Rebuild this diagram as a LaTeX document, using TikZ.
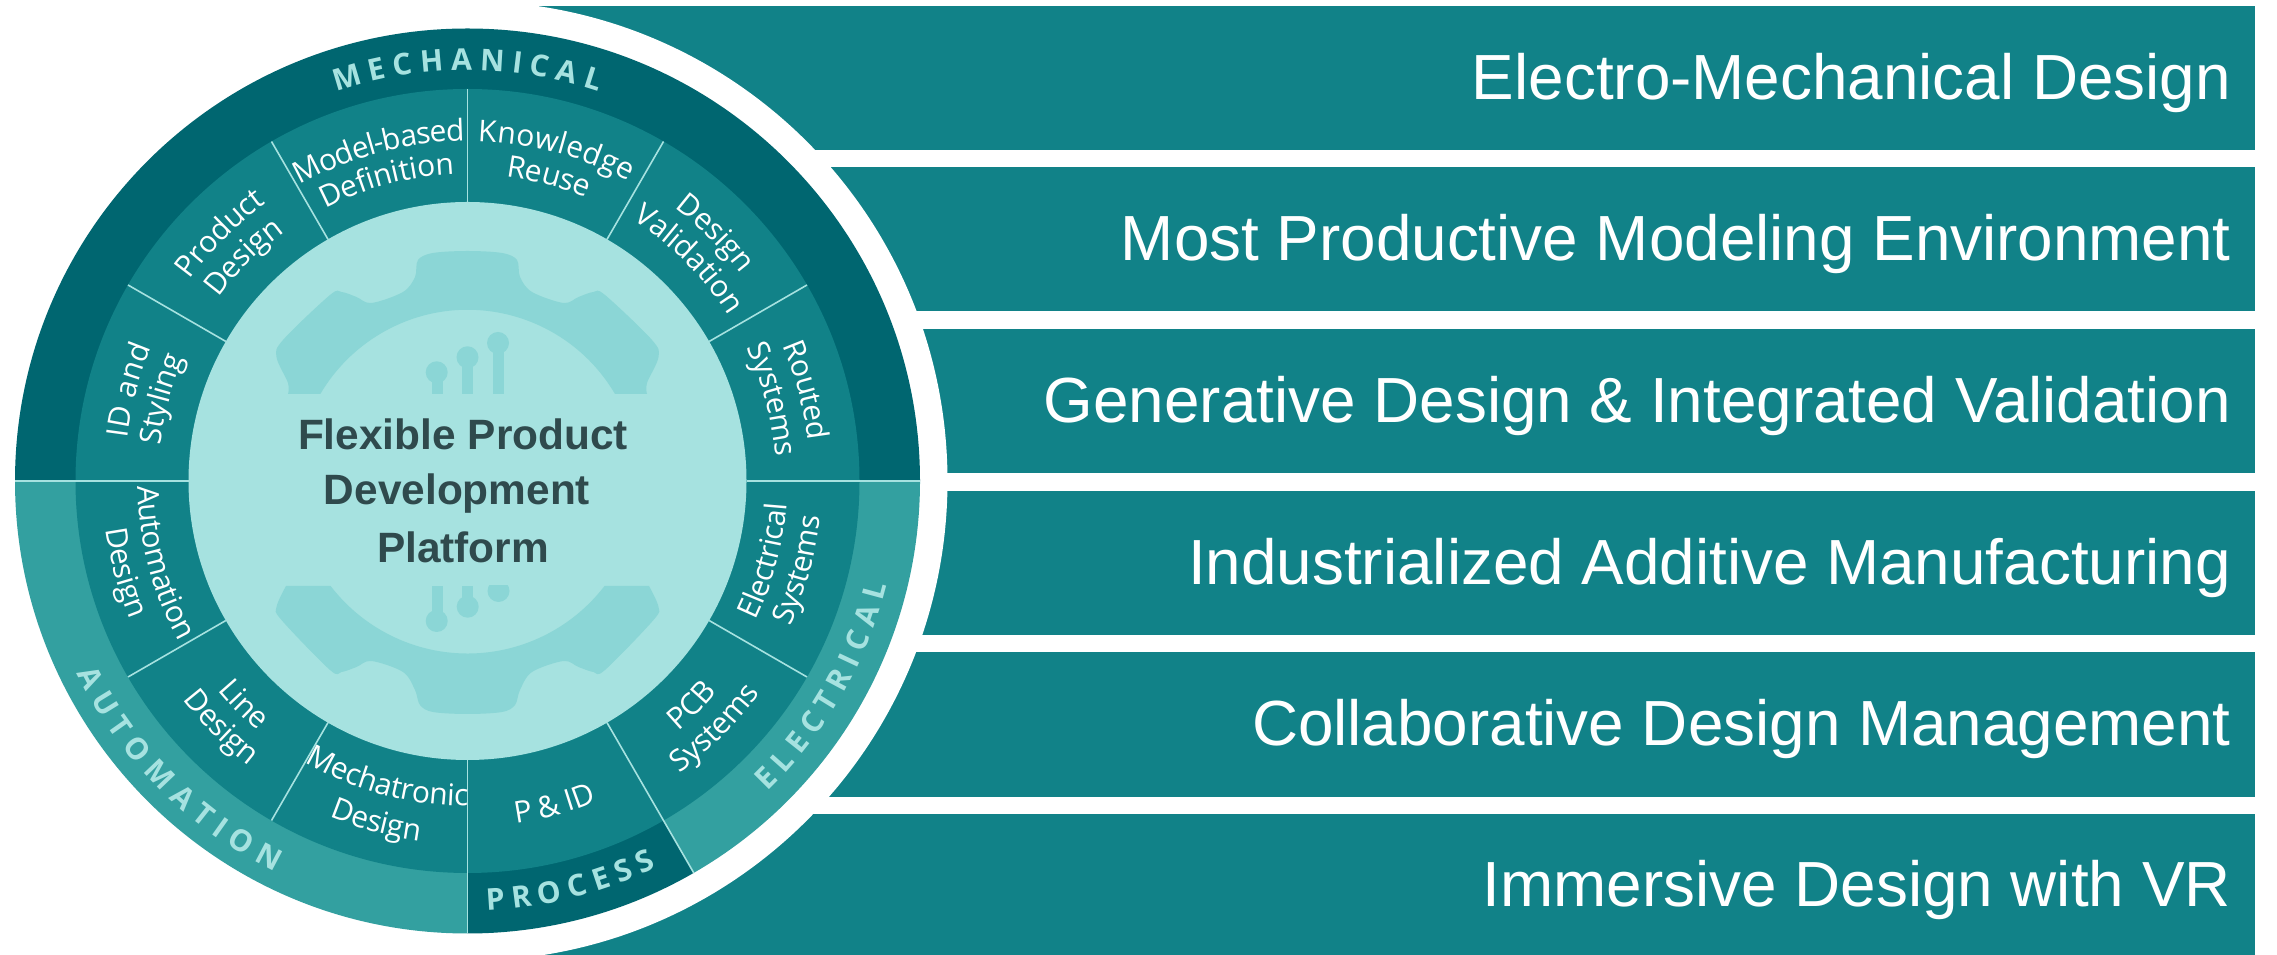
\documentclass[tikz,border=0pt]{standalone}
\usepackage{fontspec}
\setmainfont{Liberation Sans}
\newfontfamily\ringfont{Open Sans}
\definecolor{barteal}{HTML}{118288}
\definecolor{darkring}{HTML}{006670}
\definecolor{lightring}{HTML}{33A0A0}
\definecolor{hubcol}{HTML}{A6E2E0}
\definecolor{gearcol}{HTML}{8BD6D6}
\definecolor{hubtext}{HTML}{2F4A4D}
\definecolor{ringtext}{HTML}{A6E2E0}
\tikzset{x=1pt,y=1pt,
  barbox/.style={fill=barteal,draw=none},
  bartext/.style={anchor=base east,text=white,font=\fontsize{63.8}{64}\selectfont,inner sep=0pt},
  hubline/.style={anchor=base,text=hubtext,font=\fontsize{42.4}{42.4}\selectfont\bfseries,inner sep=0pt},
  divider/.style={draw=ringtext,line width=1.6pt},
  gearfill/.style={fill=gearcol,draw=none},
}
\newcounter{ltr}
\newdimen\ltrtotal
\newdimen\ltrpos
\newsavebox\ltrbox
\makeatletter
% #1 middle angle, #2 baseline radius, #3 -1 clockwise / 1 counter-clockwise,
% #4 extra tracking in pt, #5 font and colour name, #6 text
\newcommand{\arctext}[6]{%
  \ltrtotal=0pt
  \@tfor\ch:=#6\do{\sbox\ltrbox{\pgfinterruptpicture#5\ch\endpgfinterruptpicture}\advance\ltrtotal by\wd\ltrbox\advance\ltrtotal by#4pt\relax}%
  \advance\ltrtotal by-#4pt\relax
  \ltrpos=0pt
  \@tfor\ch:=#6\do{%
    \sbox\ltrbox{\pgfinterruptpicture#5\ch\endpgfinterruptpicture}%
    \pgfmathsetmacro\ltrang{#1+(#3)*(\the\ltrpos+0.5*\the\wd\ltrbox-0.5*\the\ltrtotal)/#2*57.29578}%
    \stepcounter{ltr}%
    \node[anchor=base,inner sep=0pt,outer sep=0pt,rotate=\ltrang+(#3)*90] (ltr\theltr) at (\ltrang:#2) {#5\ch};%
    \advance\ltrpos by\wd\ltrbox\advance\ltrpos by#4pt\relax
  }%
}
\makeatother
\newcommand{\sectfont}{\ringfont\fontsize{30}{30}\selectfont\color{white}}
\newcommand{\bandfont}{\ringfont\bfseries\fontsize{30}{30}\selectfont\color{ringtext}}
\begin{document}
\begin{tikzpicture}
\useasboundingbox (0,0) rectangle (2277,955);
\fill[white] (0,0) rectangle (2277,955);
% bars
\fill[barbox] (467.5,805) rectangle (2255,949);
\fill[barbox] (467.5,644) rectangle (2255,788);
\fill[barbox] (467.5,482) rectangle (2255,626);
\fill[barbox] (467.5,320) rectangle (2255,464);
\fill[barbox] (467.5,158) rectangle (2255,303);
\fill[barbox] (467.5,0) rectangle (2255,141);
\node[bartext] (b1) at (2231,855) {Electro-Mechanical Design};
\node[bartext] (b2) at (2231,694) {Most Productive Modeling Environment};
\node[bartext] (b3) at (2231,532) {Generative Design \& Integrated Validation};
\node[bartext] (b4) at (2231,370) {Industrialized Additive Manufacturing};
\node[bartext] (b5) at (2231,209) {Collaborative Design Management};
\node[bartext] (b6) at (2231,48) {Immersive Design with VR};
\begin{scope}[shift={(467.5,474)}]
\fill[white] (0,0) circle[radius=480pt];
% outer band
\fill[darkring] (0:452.5) arc[start angle=0,end angle=180,radius=452.5pt] -- cycle;
\fill[lightring] (180:452.5) arc[start angle=180,end angle=270,radius=452.5pt] -- (0,0) -- cycle;
\fill[darkring] (270:452.5) arc[start angle=270,end angle=300,radius=452.5pt] -- (0,0) -- cycle;
\fill[lightring] (300:452.5) arc[start angle=300,end angle=360,radius=452.5pt] -- (0,0) -- cycle;
\fill[barteal] (0,0) circle[radius=392pt];
% dividers
\foreach \a in {30,60,120,150,210,240,330} \draw[divider] (\a:279) -- (\a:392);
\draw[divider] (90:279) -- (90:392);
\foreach \a in {0,180,270,300} \draw[divider] (\a:279) -- (\a:452.5);
% hub
\fill[hubcol] (0,0) circle[radius=279pt];
% gear, upper part
\fill[gearfill] plot[smooth,tension=0.55] coordinates {
  (-179.5,87) (-179.5,98) (-191,124) (-184.5,141) (-137.5,186) (-126,189) (-111,184) (-96,178)
  (-64.5,189) (-52.5,204) (-49.5,221) (-34.5,228) (0,230)
  (34.5,228) (49.5,221) (52.5,204) (64.5,189) (96,178) (111,184) (126,189) (137.5,186)
  (184.5,141) (191,124) (179.5,98) (179.5,87)}
  -- (147.5,87) arc[start angle=30.5,end angle=149.5,radius=171pt] -- cycle;
% gear, lower part
\fill[gearfill] plot[smooth,tension=0.55] coordinates {
  (-181.5,-105) (-191,-126) (-186,-139) (-137.5,-189) (-126,-191) (-111,-186) (-96,-180)
  (-64.5,-191) (-52.5,-209) (-47.5,-224) (-34.5,-231) (0,-233)
  (34.5,-231) (47.5,-224) (52.5,-209) (64.5,-191) (96,-180) (111,-186) (126,-191) (137.5,-189)
  (186,-139) (191,-126) (181.5,-105)}
  -- (137,-105) arc[start angle=-37.5,end angle=-142.5,radius=172.6pt] -- cycle;
% lollipops, upper
\fill[gearfill] (-36,87) rectangle (-25,108.7);
\fill[gearfill] (-30.8,108.7) circle[radius=11pt];
\fill[gearfill] (-5.2,87) rectangle (5.8,123.7);
\fill[gearfill] (0,123.7) circle[radius=11pt];
\fill[gearfill] (25,87) rectangle (36,138);
\fill[gearfill] (30.5,138) circle[radius=11pt];
% lollipops, lower
\fill[gearfill] (-36,-105) rectangle (-25,-140);
\fill[gearfill] (-30.8,-140) circle[radius=11pt];
\fill[gearfill] (-5.2,-105) rectangle (5.8,-125.7);
\fill[gearfill] (0.2,-125.7) circle[radius=11pt];
\begin{scope}
\clip (-200,-105) rectangle (200,-130);
\fill[gearfill] (31,-110) circle[radius=11pt];
\end{scope}
% hub text
\node[hubline] (h1) at (-4.5,31.5) {Flexible Product};
\node[hubline] (h2) at (-10.5,-23.5) {Development};
\node[hubline] (h3) at (-4.5,-81.5) {Platform};
% band titles
\arctext{90}{411}{-1}{7.5}{\bandfont}{MECHANICAL}
\arctext{225}{436}{1}{8.5}{\bandfont}{AUTOMATION}
\arctext{284.3}{430}{1}{7.5}{\bandfont}{PROCESS}
\arctext{330}{432}{1}{7.5}{\bandfont}{ELECTRICAL}
% upper sector labels
\arctext{105}{340}{-1}{-1}{\sectfont}{Model-based}
\arctext{105}{307}{-1}{-0.3}{\sectfont}{Definition}
\arctext{75}{340}{-1}{0.4}{\sectfont}{Knowledge}
\arctext{75}{307}{-1}{-0.3}{\sectfont}{Reuse}
\arctext{135}{343}{-1}{-0.3}{\sectfont}{Product}
\arctext{135}{309}{-1}{-0.3}{\sectfont}{Design}
\arctext{165}{343}{-1}{0.5}{\sectfont}{ID~and}
\arctext{165}{309}{-1}{-0.3}{\sectfont}{Styling}
\arctext{45}{343}{-1}{-0.3}{\sectfont}{Design}
\arctext{45}{309}{-1}{-0.3}{\sectfont}{Validation}
\arctext{15}{343}{-1}{-0.3}{\sectfont}{Routed}
\arctext{15}{309}{-1}{-0.3}{\sectfont}{Systems}
% lower sector labels
\arctext{195}{330}{1}{-0.3}{\sectfont}{Automation}
\arctext{195}{365}{1}{-0.3}{\sectfont}{Design}
\arctext{225}{326}{1}{-0.3}{\sectfont}{Line}
\arctext{225}{359}{1}{-0.3}{\sectfont}{Design}
\arctext{255}{325}{1}{-0.3}{\sectfont}{Mechatronic}
\arctext{255}{363}{1}{-0.3}{\sectfont}{Design}
\arctext{285}{346}{1}{-0.3}{\sectfont}{P~\&~ID}
\arctext{315}{327}{1}{-0.3}{\sectfont}{PCB}
\arctext{315}{361}{1}{-0.3}{\sectfont}{Systems}
\arctext{345}{320}{1}{-0.3}{\sectfont}{Electrical}
\arctext{345}{354}{1}{-0.3}{\sectfont}{Systems}
\end{scope}
\end{tikzpicture}
\end{document}
